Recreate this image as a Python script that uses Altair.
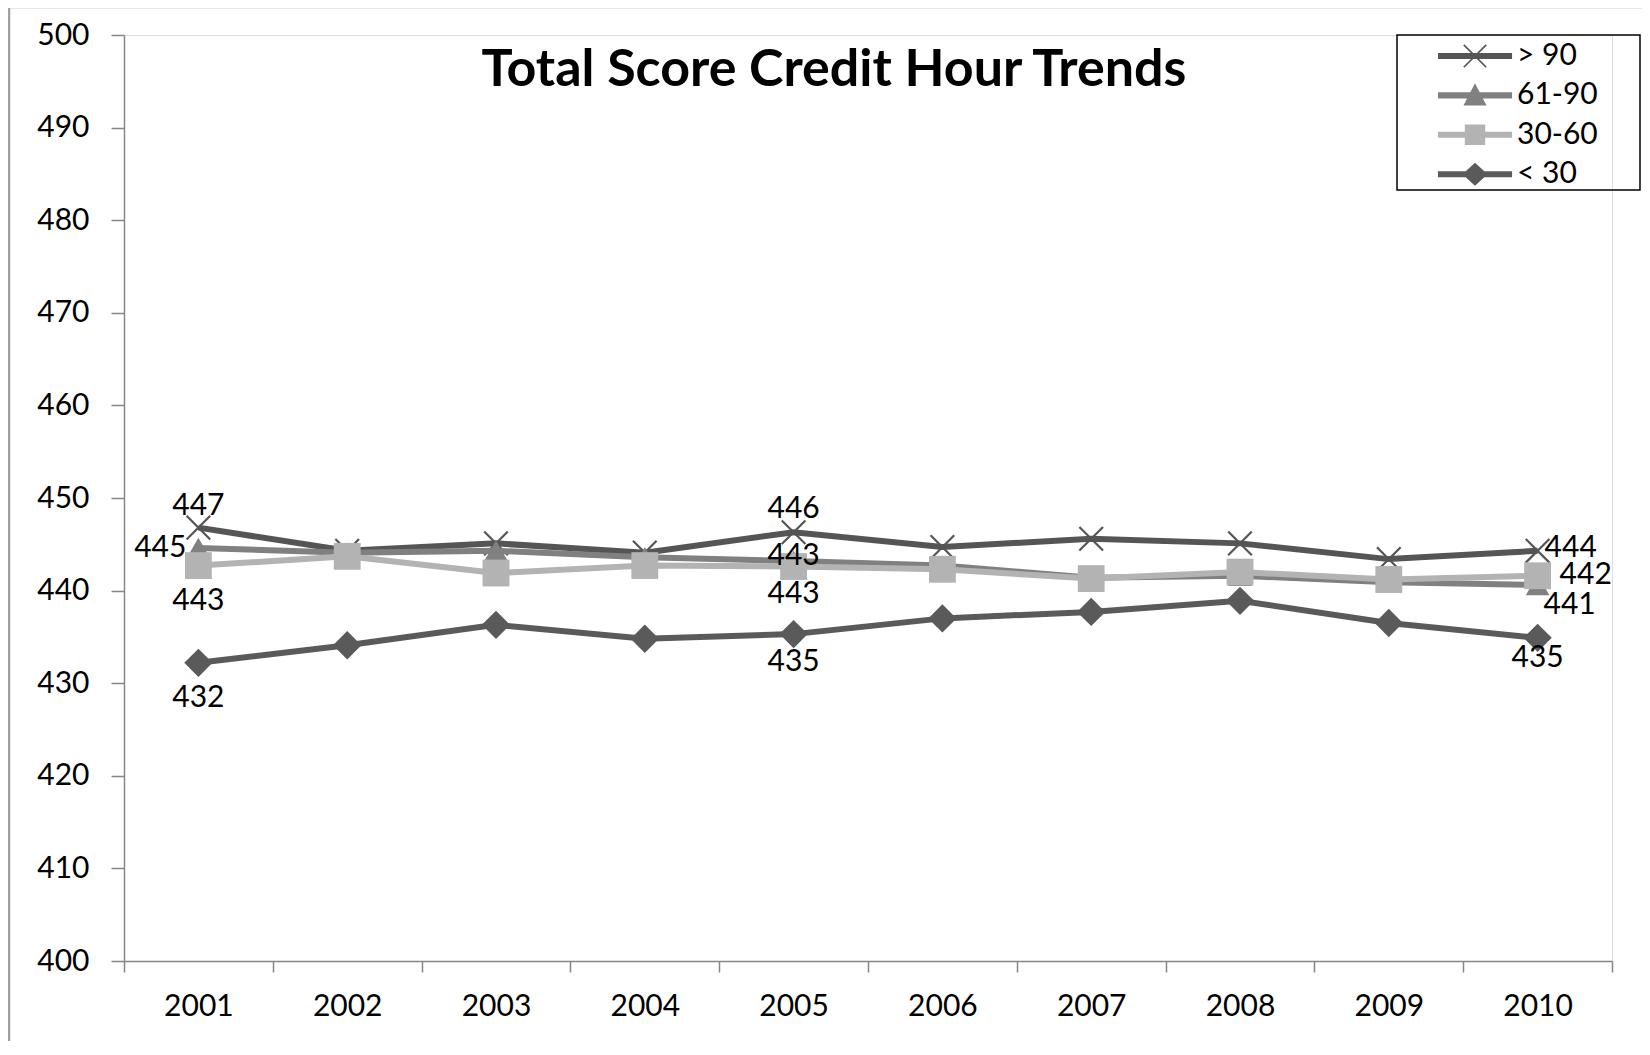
import math
import altair as alt
import pandas as pd

# ---------------- data ----------------
YEARS = ["2001", "2002", "2003", "2004", "2005", "2006", "2007", "2008", "2009", "2010"]
SERIES = ["> 90", "61-90", "30-60", "< 30"]
GT90 = [446.8, 444.3, 445.1, 444.1, 446.3, 444.7, 445.6, 445.1, 443.4, 444.3]
S61_90 = [444.6, 444.1, 444.3, 443.6, 443.2, 442.7, 441.4, 441.6, 440.9, 440.6]
S30_60 = [442.7, 443.7, 441.9, 442.7, 442.6, 442.3, 441.3, 442.0, 441.2, 441.6]
LT30 = [432.2, 434.1, 436.3, 434.8, 435.3, 437.0, 437.7, 438.9, 436.5, 434.9]
Y_TICKS = [400, 410, 420, 430, 440, 450, 460, 470, 480, 490, 500]
TITLE = "Total Score Credit Hour Trends"
LABELED = [("> 90", "2001"), ("> 90", "2005"), ("> 90", "2010"),
           ("61-90", "2001"), ("61-90", "2005"), ("61-90", "2010"),
           ("30-60", "2001"), ("30-60", "2005"), ("30-60", "2010"),
           ("< 30", "2001"), ("< 30", "2005"), ("< 30", "2010")]

VALUES = {"> 90": GT90, "61-90": S61_90, "30-60": S30_60, "< 30": LT30}
rows = []
for s in SERIES:
    for y, v in zip(YEARS, VALUES[s]):
        rows.append({"series": s, "year": y, "value": v})
df = pd.DataFrame(rows)

# ---------------- styles ----------------
FONT = "Lato"
COLORS = {"> 90": "#555555", "61-90": "#808080", "30-60": "#b3b3b3", "< 30": "#5a5a5a"}
AXIS_GRAY = "#868686"

# label offsets (dx, dy, align) per labelled point
LABEL_STYLE = {
    ("> 90", "2001"): (0, -22, "center"),
    ("> 90", "2005"): (0, -23, "center"),
    ("> 90", "2010"): (7, -3, "left"),
    ("61-90", "2001"): (-12, 0, "right"),
    ("61-90", "2005"): (0, -5, "center"),
    ("61-90", "2010"): (32, 20, "center"),
    ("30-60", "2001"): (0, 35, "center"),
    ("30-60", "2005"): (0, 27, "center"),
    ("30-60", "2010"): (22, -1, "left"),
    ("< 30", "2001"): (0, 35, "center"),
    ("< 30", "2005"): (0, 28, "center"),
    ("< 30", "2010"): (0, 20, "center"),
}


def poly(pts):
    # clockwise (screen coords) for consistent nonzero filling
    area = sum(pts[i][0] * pts[(i + 1) % len(pts)][1] - pts[(i + 1) % len(pts)][0] * pts[i][1]
               for i in range(len(pts)))
    if area < 0:
        pts = pts[::-1]
    return "M" + "L".join(f"{x:.3f},{y:.3f}" for x, y in pts) + "Z"


def rect(x0, x1, y0, y1):
    return poly([(x0, y0), (x1, y0), (x1, y1), (x0, y1)])


def xshape(a, t):
    n = t / math.sqrt(2)
    p1 = poly([(-a + n, -a - n), (a + n, a - n), (a - n, a + n), (-a - n, -a + n)])
    p2 = poly([(-a - n, a - n), (a - n, -a - n), (a + n, -a + n), (-a + n, a + n)])
    return p1 + p2


LEG_LINE = rect(-2.18, 2.18, -0.18, 0.18)
LEGEND_SHAPES = [
    LEG_LINE + xshape(0.66, 0.05),
    LEG_LINE + poly([(0, -0.72), (0.68, 0.6), (-0.68, 0.6)]),
    LEG_LINE + rect(-0.6, 0.6, -0.6, 0.6),
    LEG_LINE + poly([(0, -0.68), (0.74, 0), (0, 0.68), (-0.74, 0)]),
]

x_enc = alt.X("year:N", sort=YEARS,
              scale=alt.Scale(type="band", paddingInner=0, paddingOuter=0),
              axis=alt.Axis(title=None, labelAngle=0, tickBand="extent", grid=False,
                            domainColor=AXIS_GRAY, domainWidth=1.5, tickColor=AXIS_GRAY,
                            tickWidth=1.5, tickSize=11, labelPadding=19, labelFont=FONT,
                            labelFontSize=30, labelColor="black"))
y_enc = alt.Y("value:Q",
              scale=alt.Scale(domain=[400, 500], nice=False, zero=False),
              axis=alt.Axis(title=None, values=Y_TICKS, grid=False, domainColor=AXIS_GRAY,
                            domainWidth=1.5, tickColor=AXIS_GRAY, tickWidth=1.5, tickSize=13,
                            labelPadding=22, labelFont=FONT, labelFontSize=30,
                            labelColor="black"))

base = alt.Chart(df)
layers = []

# frame of the chart area (decoration)
frame_src = alt.Chart(alt.Data(values=[{}]))
layers.append(frame_src.mark_rule(color="#a0a0a0", strokeWidth=2.5).encode(
    x=alt.value(-115), y=alt.value(-28), y2=alt.value(1100)))
layers.append(frame_src.mark_rule(color="#a0a0a0", strokeWidth=2.5).encode(
    x=alt.value(-115), x2=alt.value(1600), y=alt.value(-28)))

# chart title, drawn inside the plot area
layers.append(frame_src.mark_text(font=FONT, fontSize=52, fontWeight="bold", color="black",
                                  align="center", baseline="alphabetic").encode(
    x=alt.value(710), y=alt.value(51), text=alt.value(TITLE)))

for s in SERIES:
    sub = base.transform_filter(alt.datum.series == s)
    layers.append(sub.mark_line(color=COLORS[s], strokeWidth=6).encode(x=x_enc, y=y_enc))
    if s == "> 90":
        pts = sub.mark_point(shape="M-1,-1L1,1M-1,1L1,-1", filled=False, color=COLORS[s],
                             strokeWidth=2.2, size=560, opacity=1)
    elif s == "61-90":
        pts = sub.mark_point(shape="triangle-up", filled=True, color=COLORS[s], size=560, opacity=1)
    elif s == "30-60":
        pts = sub.mark_point(shape="square", filled=True, color=COLORS[s], size=720, opacity=1)
    else:
        pts = sub.mark_point(shape="diamond", filled=True, color=COLORS[s], size=800, opacity=1)
    layers.append(pts.encode(x=x_enc, y=y_enc))

# data labels
for s, yr in LABELED:
    dx, dy, align = LABEL_STYLE[(s, yr)]
    layers.append(
        base.transform_filter((alt.datum.series == s) & (alt.datum.year == yr))
        .mark_text(font=FONT, fontSize=30, color="black", dx=dx, dy=dy, align=align,
                   baseline="middle")
        .encode(x=x_enc, y=y_enc, text=alt.Text("value:Q", format=".0f"))
    )

# invisible layer that drives the legend
leg = alt.Legend(title=None, orient="none", legendX=1334, legendY=4, padding=0,
                 symbolSize=1156, symbolStrokeWidth=0, symbolOpacity=1,
                 labelFont=FONT, labelFontSize=30, labelColor="black", labelOffset=25,
                 rowPadding=7.4, labelLimit=300)
layers.append(
    base.mark_point(filled=True, opacity=0).encode(
        x=x_enc, y=y_enc,
        color=alt.Color("series:N", sort=SERIES,
                        scale=alt.Scale(domain=SERIES, range=[COLORS[s] for s in SERIES]),
                        legend=leg),
        shape=alt.Shape("series:N", sort=SERIES,
                        scale=alt.Scale(domain=SERIES, range=LEGEND_SHAPES),
                        legend=leg),
    )
)

# legend box (decoration)
layers.append(frame_src.mark_rect(fillOpacity=0, stroke="black", strokeWidth=1.5).encode(
    x=alt.value(1273), x2=alt.value(1516), y=alt.value(0), y2=alt.value(155)))

chart = alt.layer(*layers).properties(
    width=1488, height=926,
    autosize=alt.AutoSizeParams(type="none"),
    padding={"left": 116, "top": 27, "right": 30, "bottom": 80},
).configure_view(stroke=None).configure(background="white")

chart.save("out.html", embed_options={"renderer": "svg", "actions": False})
